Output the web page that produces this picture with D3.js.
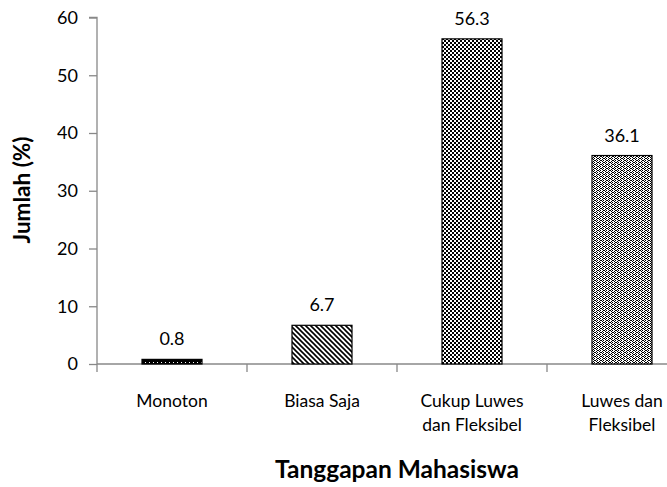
<!DOCTYPE html>
<html>
<head>
<meta charset="utf-8">
<script src="https://cdn.jsdelivr.net/npm/d3@7"></script>
<style>
  body { margin: 0; background: #fff; }
  text { font-family: Lato, "Open Sans", sans-serif; fill: #000; }
</style>
</head>
<body>
<svg id="chart" width="667" height="487"></svg>
<script>
// data
const categories = ['Monoton', 'Biasa Saja', 'Cukup Luwes dan Fleksibel', 'Luwes dan Fleksibel']
const categoryLines = [['Monoton'], ['Biasa Saja'], ['Cukup Luwes', 'dan Fleksibel'], ['Luwes dan', 'Fleksibel']]
const values = [0.8, 6.7, 56.3, 36.1]
const valueLabels = ['0.8', '6.7', '56.3', '36.1']
const yTicks = [0, 10, 20, 30, 40, 50, 60]
const patternIds = ['pat-dark', 'pat-diag', 'pat-check', 'pat-dots']

const svg = d3.select('#chart')
const axisColor = '#888'

// x band: ticks at 97, 247, 397, 547, (697 off screen)
const x = d3.scaleBand()
  .domain(categories)
  .range([97, 697])
  .paddingInner(0)
  .paddingOuter(0)

const y = d3.scaleLinear()
  .domain([0, 60])
  .range([364, 17.5])

// fill patterns
const defs = svg.append('defs')

const pDark = defs.append('pattern').attr('id', 'pat-dark')
  .attr('patternUnits', 'userSpaceOnUse').attr('width', 4).attr('height', 4)
pDark.append('rect').attr('width', 4).attr('height', 4).attr('fill', '#000')
pDark.append('rect').attr('x', 1).attr('y', 2).attr('width', 1).attr('height', 1).attr('fill', '#fff')

const pDiag = defs.append('pattern').attr('id', 'pat-diag')
  .attr('patternUnits', 'userSpaceOnUse').attr('width', 5).attr('height', 5)
pDiag.append('rect').attr('width', 5).attr('height', 5).attr('fill', '#fff')
pDiag.append('path')
  .attr('d', 'M-1,-1 L6,6 M-1,4 L1,6 M4,-1 L6,1')
  .attr('stroke', '#000').attr('stroke-width', 1.6)

const pCheck = defs.append('pattern').attr('id', 'pat-check')
  .attr('patternUnits', 'userSpaceOnUse').attr('width', 4).attr('height', 4)
pCheck.append('rect').attr('width', 4).attr('height', 4).attr('fill', '#fff')
pCheck.append('rect').attr('width', 2).attr('height', 2).attr('fill', '#000')
pCheck.append('rect').attr('x', 2).attr('y', 2).attr('width', 2).attr('height', 2).attr('fill', '#000')

// brick-like stipple for the last bar
const dotCells = [[0, 0], [1, 0], [3, 0], [2, 1], [5, 1], [3, 2], [4, 2], [0, 2], [5, 3], [2, 3]]
const pDots = defs.append('pattern').attr('id', 'pat-dots')
  .attr('patternUnits', 'userSpaceOnUse').attr('width', 6).attr('height', 4)
pDots.append('rect').attr('width', 6).attr('height', 4).attr('fill', '#fff')
pDots.selectAll('rect.c')
  .data(dotCells)
  .enter()
  .append('rect')
  .attr('class', 'c')
  .attr('x', d => d[0]).attr('y', d => d[1])
  .attr('width', 1).attr('height', 1)
  .attr('fill', '#000')

// y axis
const yAxis = svg.append('g')
  .attr('transform', 'translate(97,0)')
  .call(d3.axisLeft(y).tickValues(yTicks).tickSize(8).tickPadding(11).tickFormat(d3.format('d')))
yAxis.select('.domain').attr('stroke', axisColor).attr('stroke-width', 1.3)
  .attr('d', 'M-8,' + y(60) + 'H0V' + y(0))
yAxis.selectAll('.tick line').attr('stroke', axisColor).attr('stroke-width', 1.3)
yAxis.selectAll('.tick text').attr('font-size', '18px').attr('font-family', 'Lato')

// x axis line and ticks
const xAxisG = svg.append('g')
xAxisG.append('line')
  .attr('x1', 97).attr('x2', 667)
  .attr('y1', y(0)).attr('y2', y(0))
  .attr('stroke', axisColor).attr('stroke-width', 1.3)
xAxisG.selectAll('.xtick')
  .data(categories)
  .enter()
  .append('line')
  .attr('x1', d => x(d)).attr('x2', d => x(d))
  .attr('y1', y(0)).attr('y2', y(0) + 8)
  .attr('stroke', axisColor).attr('stroke-width', 1.3)

// bars
const barW = x.bandwidth() * 0.4
svg.selectAll('.bar')
  .data(values)
  .enter()
  .append('rect')
  .attr('x', (d, i) => x(categories[i]) + x.bandwidth() / 2 - barW / 2)
  .attr('y', d => y(d))
  .attr('width', barW)
  .attr('height', d => y(0) - y(d))
  .attr('fill', (d, i) => 'url(#' + patternIds[i] + ')')
  .attr('stroke', '#000')
  .attr('stroke-width', 1.2)

// value labels
svg.selectAll('.val')
  .data(values)
  .enter()
  .append('text')
  .attr('x', (d, i) => x(categories[i]) + x.bandwidth() / 2)
  .attr('y', d => y(d) - 14)
  .attr('text-anchor', 'middle')
  .attr('font-size', '18px')
  .text((d, i) => valueLabels[i])

// category labels
categoryLines.forEach((lines, i) => {
  const t = svg.append('text')
    .attr('x', x(categories[i]) + x.bandwidth() / 2)
    .attr('y', 407)
    .attr('text-anchor', 'middle')
    .attr('font-size', '17.5px')
  lines.forEach((ln, j) => {
    t.append('tspan')
      .attr('x', x(categories[i]) + x.bandwidth() / 2)
      .attr('dy', j === 0 ? 0 : 24)
      .text(ln)
  })
})

// axis titles
svg.append('text')
  .attr('x', 397).attr('y', 478)
  .attr('text-anchor', 'middle')
  .attr('font-size', '24.5px')
  .attr('font-weight', 'bold')
  .text('Tanggapan Mahasiswa')

svg.append('text')
  .attr('transform', 'translate(30,190) rotate(-90)')
  .attr('text-anchor', 'middle')
  .attr('font-size', '22.5px')
  .attr('font-weight', 'bold')
  .text('Jumlah (%)')
</script>
</body>
</html>
